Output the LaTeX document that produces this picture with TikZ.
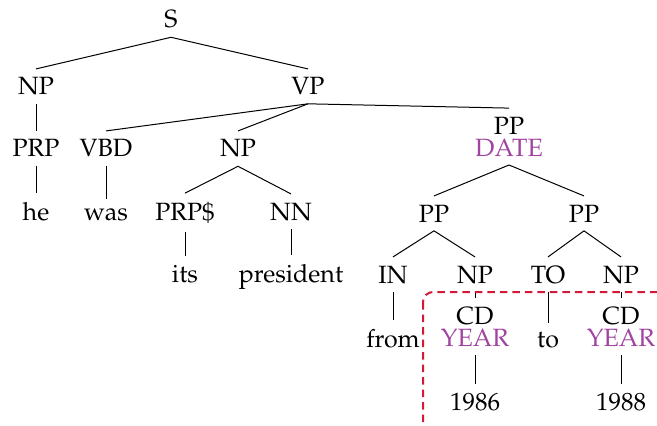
\documentclass[tikz,border=0pt]{standalone}
\usepackage[T1]{fontenc}
\usepackage{mathpazo}
\usepackage{tikz}
\usetikzlibrary{positioning}
\definecolor{semtag}{RGB}{160,68,160}
\definecolor{spanred}{RGB}{212,24,56}

\begin{document}
\begin{tikzpicture}[
    x=0.4pt, y=-0.4pt,
    every node/.style={font=\normalsize, inner sep=3.3pt},
    word/.style={anchor=base},
    sem/.style={anchor=south, align=center},
    span/.style={draw=spanred, line width=0.8pt, dash pattern=on 3pt off 2pt, rounded corners=4pt},
]
\clip (0,0) rectangle (657,425);
% top of the parse
\node[word] (s) at (171,28) {S};
\node[word] (np) at (36,95) {NP};
\node[word] (vp) at (308,95) {VP};
\node[word] (prp) at (36,157) {PRP};
\node[word] (vbd) at (106,157) {VBD};
\node[word] (npobj) at (238,157) {NP};
\node[sem] (ppdate) at (509,165) {PP\\[-3.2pt]\textcolor{semtag}{DATE}};
% subject, verb and object
\node[word] (he) at (36,220) {he};
\node[word] (was) at (106,220) {was};
\node[word] (prps) at (185,220) {PRP\$};
\node[word] (nn) at (291,220) {NN};
\node[word] (its) at (185,282) {its};
\node[word] (president) at (291,282) {president};
% the date phrase
\node[word] (ppfrom) at (434,222) {PP};
\node[word] (ppto) at (584,222) {PP};
\node[word] (inprep) at (393,283) {IN};
\node[word] (npstart) at (475,283) {NP};
\node[word] (toprep) at (548,283) {TO};
\node[word] (npend) at (621,283) {NP};
\node[word] (from) at (393,347) {from};
\node[sem] (cdstart) at (475,355) {CD\\[-3.2pt]\textcolor{semtag}{YEAR}};
\node[word] (toword) at (548,347) {to};
\node[sem] (cdend) at (621,355) {CD\\[-3.2pt]\textcolor{semtag}{YEAR}};
\node[word] (ystart) at (475,410) {1986};
\node[word] (yend) at (621,410) {1988};

\foreach \p/\c in {s/np, s/vp, np/prp, prp/he, vp/vbd, vp/npobj, vp/ppdate,
    vbd/was, npobj/prps, npobj/nn, prps/its, nn/president,
    ppdate/ppfrom, ppdate/ppto, ppfrom/inprep, ppfrom/npstart,
    ppto/toprep, ppto/npend, inprep/from, npstart/cdstart,
    toprep/toword, npend/cdend, cdstart/ystart, cdend/yend}
  \draw (\p.south) -- (\c.north);

% span of the two years
\draw[span] (423,292) rectangle (690,460);
\end{tikzpicture}
\end{document}
